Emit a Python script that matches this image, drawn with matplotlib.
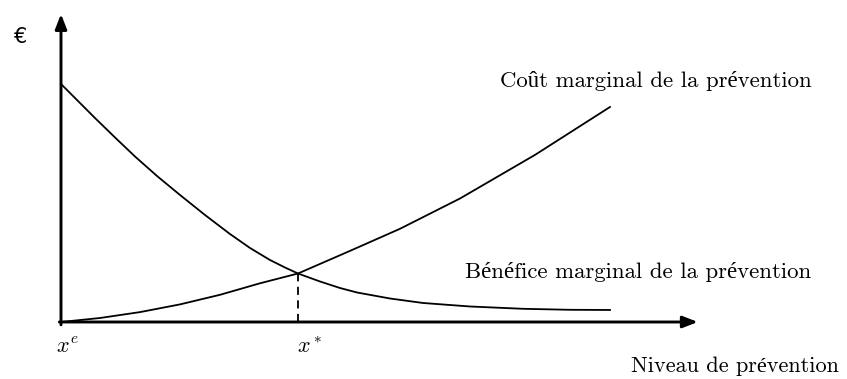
import matplotlib
matplotlib.use("Agg")
import matplotlib.pyplot as plt

# Data (arbitrary units)
benefit_x = [0, 3.46, 6.19, 9.84, 13.48, 17.49, 21.68, 26.23, 30.78, 34.43, 38.07,
             40.80, 43.17, 47.18, 50.82, 53.92, 59.93, 65.94, 74.50, 84.15, 92.71, 100]
benefit_y = [110.19, 101.39, 94.44, 85.42, 76.62, 67.59, 58.80, 49.54, 40.74, 34.26,
             28.70, 25.23, 22.45, 18.75, 15.74, 13.66, 10.88, 8.80, 7.18, 6.11, 5.65, 5.56]
cost_x = [0, 7.10, 14.39, 21.68, 28.96, 36.25, 43.17, 52.64, 61.75, 72.68, 86.34, 100]
cost_y = [0, 1.85, 4.58, 8.15, 12.59, 17.92, 22.45, 32.92, 43.15, 57.18, 77.36, 99.54]
x_star = 43.17
y_star = 22.45
label_cost = "Coût marginal de la prévention"
label_benefit = "Bénéfice marginal de la prévention"
label_xaxis = "Niveau de prévention"
label_yaxis = "€"
tick_labels = [r"$x^e$", r"$x^*$"]

plt.rcParams["mathtext.fontset"] = "cm"
serif = ["cmr10", "Liberation Serif"]

fig = plt.figure(figsize=(8.47, 3.79), dpi=100)
ax = fig.add_axes([0, 0, 1, 1])
ax.set_xlim(-11.11, 143.17)
ax.set_ylim(-26.39, 149.07)
ax.axis("off")

# axes arrows
arrow_kw = dict(arrowstyle="-|>,head_length=0.9,head_width=0.35", lw=2.1,
                color="black", shrinkA=0, shrinkB=0)
ax.annotate("", xy=(116.0, 0), xytext=(-0.3, 0), arrowprops=arrow_kw)
ax.annotate("", xy=(0, 142.6), xytext=(0, -1.3), arrowprops=arrow_kw)

# curves
ax.plot(benefit_x, benefit_y, color="black", lw=1.3, solid_joinstyle="round")
ax.plot(cost_x, cost_y, color="black", lw=1.3, solid_joinstyle="round")
ax.plot([x_star, x_star], [0, y_star], color="black", lw=1.3,
        linestyle=(0, (4.5, 3)))

# labels
ax.text(136.8, 111.8, label_cost, family=serif, fontsize=16.4,
        ha="right", va="center")
ax.text(136.6, 23.2, label_benefit, family=serif, fontsize=16.4,
        ha="right", va="center")
ax.text(141.7, -20.5, label_xaxis, family=serif, fontsize=16.0,
        ha="right", va="center")
ax.text(-7.4, 131.9, label_yaxis, family=["DejaVu Sans"], fontsize=15,
        ha="center", va="center")
ax.text(1.2, -11.6, tick_labels[0], fontsize=16, ha="center", va="center")
ax.text(45.3, -11.6, tick_labels[1], fontsize=16, ha="center", va="center")

fig.savefig("out.png", dpi=100)
